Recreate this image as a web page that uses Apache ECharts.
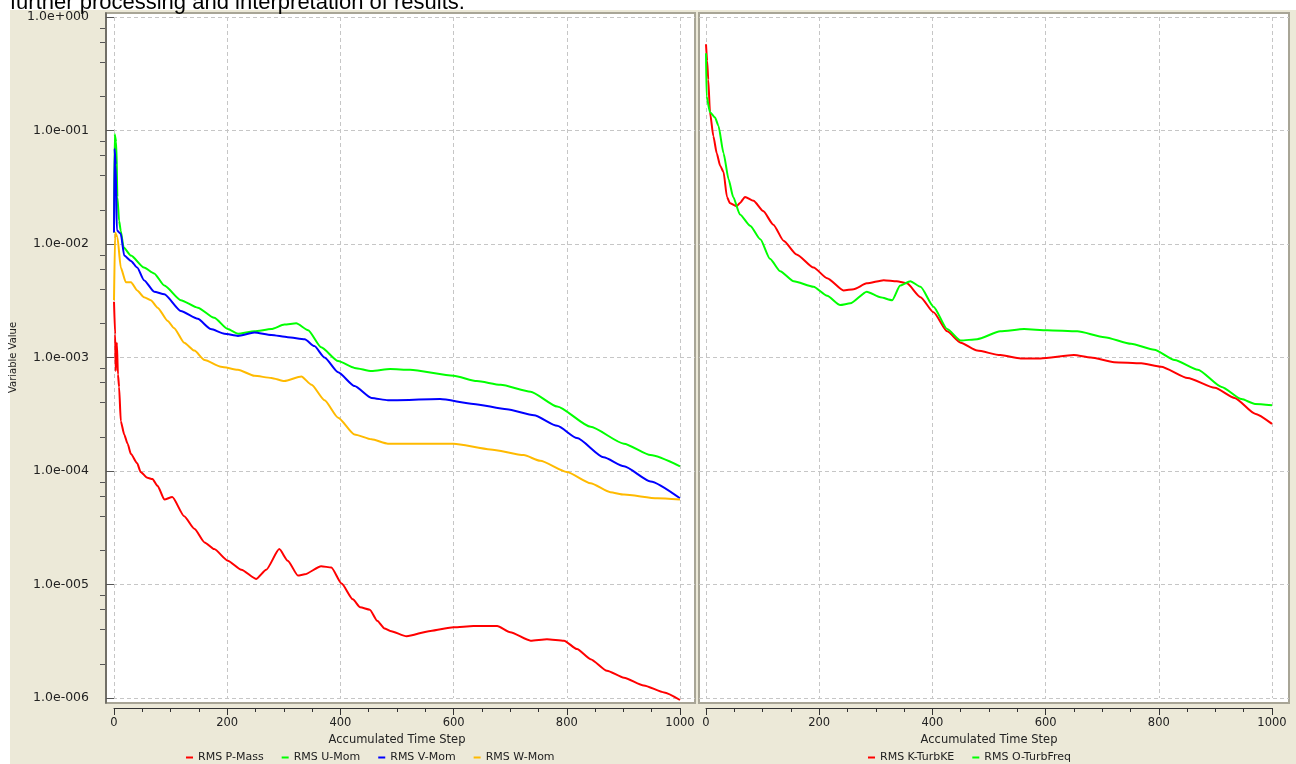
<!DOCTYPE html>
<html>
<head>
<meta charset="utf-8">
<script src="https://cdn.jsdelivr.net/npm/echarts@6/dist/echarts.min.js"></script>
<style>
  html, body { margin: 0; padding: 0; background: #fff; }
  #main { width: 1296px; height: 764px; }
</style>
</head>
<body>
<div id="main"></div>
<script>
// left panel: momentum / mass residuals
var pMassSteps = [0, 2, 3, 5, 7, 9, 12, 18, 24, 30, 41, 47, 59, 68, 77, 89, 103, 124, 142, 160, 177, 201, 225, 251, 269, 292, 307, 325, 337, 366, 384, 402, 422, 435, 452, 465, 478, 488, 517, 559, 600, 635, 677, 700, 736, 765, 795, 818, 842, 871, 901, 936, 972, 1000];
var pMassValues = [3.1e-3, 1.6e-3, 7.6e-4, 1.35e-3, 7.1e-4, 5.5e-4, 2.75e-4, 2.1e-4, 1.74e-4, 1.41e-4, 1.17e-4, 9.8e-5, 8.7e-5, 8.5e-5, 7.4e-5, 5.6e-5, 5.9e-5, 4.0e-5, 3.1e-5, 2.35e-5, 2.05e-5, 1.62e-5, 1.35e-5, 1.12e-5, 1.35e-5, 2.05e-5, 1.62e-5, 1.2e-5, 1.23e-5, 1.45e-5, 1.41e-5, 1.02e-5, 7.4e-6, 6.3e-6, 6.0e-6, 4.8e-6, 4.1e-6, 3.9e-6, 3.5e-6, 3.9e-6, 4.2e-6, 4.3e-6, 4.3e-6, 3.8e-6, 3.2e-6, 3.3e-6, 3.2e-6, 2.7e-6, 2.2e-6, 1.74e-6, 1.51e-6, 1.29e-6, 1.12e-6, 9.6e-7];

var uMomSteps = [0, 1, 4, 6, 9, 12, 17, 30, 53, 71, 89, 118, 148, 177, 201, 219, 248, 278, 301, 322, 343, 366, 396, 425, 455, 488, 523, 600, 641, 683, 736, 783, 842, 901, 948, 1000];
var uMomValues = [1.26e-2, 9.3e-2, 7.9e-2, 2.6e-2, 1.6e-2, 1.3e-2, 9.3e-3, 7.9e-3, 6.2e-3, 5.5e-3, 4.3e-3, 3.2e-3, 2.75e-3, 2.24e-3, 1.78e-3, 1.62e-3, 1.70e-3, 1.78e-3, 1.95e-3, 2.0e-3, 1.74e-3, 1.23e-3, 9.3e-4, 8.1e-4, 7.6e-4, 7.9e-4, 7.8e-4, 6.9e-4, 6.2e-4, 5.75e-4, 5.0e-4, 3.7e-4, 2.45e-4, 1.74e-4, 1.38e-4, 1.10e-4];

var vMomSteps = [0, 1, 3, 5, 12, 18, 30, 41, 53, 71, 89, 118, 148, 171, 195, 219, 248, 278, 307, 337, 354, 372, 396, 425, 455, 484, 576, 635, 694, 742, 783, 818, 865, 901, 948, 1000];
var vMomValues = [1.26e-2, 6.9e-2, 5.0e-2, 1.32e-2, 1.23e-2, 7.9e-3, 7.1e-3, 6.2e-3, 4.8e-3, 3.8e-3, 3.6e-3, 2.57e-3, 2.19e-3, 1.78e-3, 1.62e-3, 1.55e-3, 1.66e-3, 1.58e-3, 1.51e-3, 1.45e-3, 1.26e-3, 1.0e-3, 7.4e-4, 5.6e-4, 4.4e-4, 4.2e-4, 4.3e-4, 3.9e-4, 3.5e-4, 3.1e-4, 2.5e-4, 1.95e-4, 1.32e-4, 1.10e-4, 8.1e-5, 5.75e-5];

var wMomSteps = [0, 2, 6, 12, 21, 30, 41, 53, 65, 77, 95, 106, 124, 142, 160, 189, 219, 248, 278, 301, 331, 349, 372, 396, 425, 455, 484, 600, 665, 724, 753, 800, 842, 877, 901, 960, 1000];
var wMomValues = [3.2e-3, 1.26e-2, 1.15e-2, 6.2e-3, 4.6e-3, 4.6e-3, 3.9e-3, 3.4e-3, 3.2e-3, 2.75e-3, 2.1e-3, 1.82e-3, 1.35e-3, 1.15e-3, 9.5e-4, 8.3e-4, 7.8e-4, 6.9e-4, 6.6e-4, 6.2e-4, 6.8e-4, 5.75e-4, 4.2e-4, 2.95e-4, 2.1e-4, 1.9e-4, 1.74e-4, 1.74e-4, 1.55e-4, 1.38e-4, 1.23e-4, 9.8e-5, 7.8e-5, 6.5e-5, 6.2e-5, 5.75e-5, 5.6e-5];

// right panel: turbulence residuals
var kTurbSteps = [0, 2, 4, 7, 13, 19, 25, 31, 37, 42, 54, 60, 69, 84, 101, 119, 137, 160, 190, 214, 243, 261, 284, 314, 337, 355, 379, 402, 426, 450, 479, 520, 556, 591, 650, 680, 721, 769, 804, 851, 899, 934, 970, 1000];
var kTurbValues = [0.575, 0.41, 0.28, 0.145, 8.9e-2, 6.3e-2, 4.9e-2, 4.3e-2, 2.6e-2, 2.3e-2, 2.15e-2, 2.3e-2, 2.6e-2, 2.4e-2, 1.95e-2, 1.48e-2, 1.07e-2, 8.1e-3, 6.2e-3, 5.0e-3, 3.9e-3, 4.0e-3, 4.5e-3, 4.8e-3, 4.7e-3, 4.5e-3, 3.4e-3, 2.5e-3, 1.7e-3, 1.35e-3, 1.15e-3, 1.05e-3, 9.8e-4, 9.8e-4, 1.05e-3, 1.0e-3, 9.1e-4, 8.9e-4, 8.3e-4, 6.6e-4, 5.4e-4, 4.4e-4, 3.2e-4, 2.6e-4];

var oTurbSteps = [0, 1, 7, 16, 22, 31, 40, 48, 60, 78, 96, 113, 131, 155, 190, 214, 237, 255, 284, 308, 329, 343, 361, 379, 402, 426, 450, 479, 520, 562, 603, 656, 704, 751, 792, 828, 869, 911, 946, 970, 1000];
var oTurbValues = [0.48, 0.20, 0.145, 0.13, 0.11, 6.3e-2, 3.7e-2, 2.6e-2, 1.82e-2, 1.45e-2, 1.1e-2, 7.4e-3, 5.75e-3, 4.7e-3, 4.2e-3, 3.5e-3, 2.9e-3, 3.0e-3, 3.8e-3, 3.4e-3, 3.2e-3, 4.3e-3, 4.7e-3, 4.2e-3, 2.8e-3, 1.78e-3, 1.41e-3, 1.45e-3, 1.7e-3, 1.78e-3, 1.74e-3, 1.7e-3, 1.51e-3, 1.32e-3, 1.17e-3, 9.5e-4, 7.8e-4, 5.5e-4, 4.3e-4, 3.9e-4, 3.8e-4];

// axis ticks
var yTickValues = [1e-6, 1e-5, 1e-4, 1e-3, 1e-2, 1e-1, 1e0];
var yTickLabels = ['1.0e-006', '1.0e-005', '1.0e-004', '1.0e-003', '1.0e-002', '1.0e-001', '1.0e+000'];
var yMinorTicks = [2e-6, 4e-6, 6e-6, 8e-6, 2e-5, 4e-5, 6e-5, 8e-5, 2e-4, 4e-4, 6e-4, 8e-4,
                   2e-3, 4e-3, 6e-3, 8e-3, 2e-2, 4e-2, 6e-2, 8e-2, 0.2, 0.4, 0.6, 0.8];
var xTickInterval = 200;

var BEIGE = '#ece9d8';
var FONT = 'DejaVu Sans';
var TXT = '#222';
// frame box extends a few px past the 1e0 / 1e-6 grid lines
var FRAME_MIN = 9.036e-7, FRAME_MAX = 1.0845;

function pairs(steps, values) {
  return steps.map(function (s, i) { return [s, values[i]]; });
}

function frameGrid(left, right) {
  return {
    left: left, right: right, top: 13, bottom: 61,
    show: true, backgroundColor: '#fff', borderColor: '#a8a596', borderWidth: 2
  };
}

function dashLine() {
  return { show: true, showMinLine: false, showMaxLine: false, lineStyle: { color: '#c6c6c6', type: [4, 3], width: 1 } };
}

function xAxisData(gridIndex) {
  return {
    gridIndex: gridIndex, type: 'value', min: 0, max: 1000, interval: xTickInterval, offset: 10,
    name: 'Accumulated Time Step', nameLocation: 'middle', nameGap: 26,
    nameTextStyle: { color: TXT, fontFamily: FONT, fontSize: 11.5 },
    axisLine: { show: true, lineStyle: { color: '#333', width: 1 } },
    axisTick: { show: true, length: 7, lineStyle: { color: '#333' } },
    minorTick: { show: true, splitNumber: 4, length: 4, lineStyle: { color: '#333' } },
    axisLabel: { margin: 9, color: TXT, fontFamily: FONT, fontSize: 11.5, formatter: function (v) { return String(v); } },
    splitLine: { show: true, lineStyle: { color: '#c6c6c6', type: [4, 3], width: 1 } }
  };
}

function hiddenX(gridIndex) {
  return { gridIndex: gridIndex, type: 'value', min: 0, max: 1, show: false, splitLine: { show: false } };
}

function lineSeries(name, color, steps, values, xi, yi) {
  return {
    name: name, type: 'line', xAxisIndex: xi, yAxisIndex: yi,
    data: pairs(steps, values), showSymbol: false, symbol: 'none',
    smooth: 0.2, smoothMonotone: 'x', clip: false,
    lineStyle: { color: color, width: 2 }, itemStyle: { color: color }
  };
}

var chart = echarts.init(document.getElementById('main'), null, { renderer: 'canvas' });

var legendBase = {
  icon: 'rect', itemWidth: 7, itemHeight: 2, itemGap: 18,
  top: 752, padding: 0,
  textStyle: { color: TXT, fontFamily: FONT, fontSize: 11 }
};

var option = {
  animation: false,
  backgroundColor: BEIGE,
  graphic: [
    { type: 'rect', shape: { x: 0, y: 0, width: 1296, height: 10 }, style: { fill: '#fff' }, silent: true },
    { type: 'rect', shape: { x: 0, y: 0, width: 10, height: 764 }, style: { fill: '#fff' }, silent: true },
    { type: 'text', x: 10, y: 3, silent: true,
      style: { text: 'further processing and interpretation of results.', font: '22px "Liberation Sans"', fill: '#000', verticalAlign: 'middle' } }
  ],
  grid: [
    frameGrid(106, 1296 - 695),
    { left: 114, right: 1296 - 680, top: 17, bottom: 66 },
    frameGrid(699, 1296 - 1289),
    { left: 706, right: 1296 - 1272, top: 17, bottom: 66 }
  ],
  legend: [
    Object.assign({}, legendBase, { left: 186, data: ['RMS P-Mass', 'RMS U-Mom', 'RMS V-Mom', 'RMS W-Mom'] }),
    Object.assign({}, legendBase, { left: 868, data: ['RMS K-TurbKE', 'RMS O-TurbFreq'] })
  ],
  xAxis: [hiddenX(0), xAxisData(1), hiddenX(2), xAxisData(3)],
  yAxis: [
    { // left frame: horizontal dashed lines + dark axis line
      gridIndex: 0, type: 'log', logBase: 10, min: FRAME_MIN, max: FRAME_MAX, offset: 1, position: 'left',
      axisLine: { show: true, lineStyle: { color: '#5f5e57', width: 1.5 } },
      axisTick: { show: false }, axisLabel: { show: false }, splitLine: dashLine()
    },
    { // left data axis: decade ticks + labels
      gridIndex: 1, type: 'log', logBase: 10, min: 1e-6, max: 1, offset: 9, position: 'left',
      name: 'Variable Value', nameLocation: 'middle', nameRotate: 90, nameGap: 87,
      nameTextStyle: { color: TXT, fontFamily: FONT, fontSize: 10 },
      axisLine: { show: false },
      axisTick: { show: true, length: 8, lineStyle: { color: '#555' } },
      axisLabel: {
        margin: 16, color: TXT, fontFamily: FONT, fontSize: 12.5,
        formatter: function (v) {
          var i = Math.round(Math.log10(v)) + 6;
          return yTickLabels[i] || '';
        }
      },
      splitLine: { show: false }
    },
    { // left data axis: minor ticks at 2,4,6,8
      gridIndex: 1, type: 'log', logBase: 10, min: 1e-6, max: 1, offset: 9, position: 'left',
      axisLine: { show: false },
      axisTick: { show: true, length: 5, customValues: yMinorTicks, lineStyle: { color: '#555' } },
      axisLabel: { show: false }, splitLine: { show: false }
    },
    { // right frame
      gridIndex: 2, type: 'log', logBase: 10, min: FRAME_MIN, max: FRAME_MAX,
      axisLine: { show: false }, axisTick: { show: false }, axisLabel: { show: false },
      splitLine: dashLine()
    },
    { gridIndex: 3, type: 'log', logBase: 10, min: 1e-6, max: 1, show: false, splitLine: { show: false } }
  ],
  series: [
    lineSeries('RMS P-Mass', '#ff0000', pMassSteps, pMassValues, 1, 1),
    lineSeries('RMS U-Mom', '#00ff00', uMomSteps, uMomValues, 1, 1),
    lineSeries('RMS V-Mom', '#0000ff', vMomSteps, vMomValues, 1, 1),
    lineSeries('RMS W-Mom', '#ffba00', wMomSteps, wMomValues, 1, 1),
    lineSeries('RMS K-TurbKE', '#ff0000', kTurbSteps, kTurbValues, 3, 4),
    lineSeries('RMS O-TurbFreq', '#00ff00', oTurbSteps, oTurbValues, 3, 4)
  ]
};

chart.setOption(option);
</script>
</body>
</html>
